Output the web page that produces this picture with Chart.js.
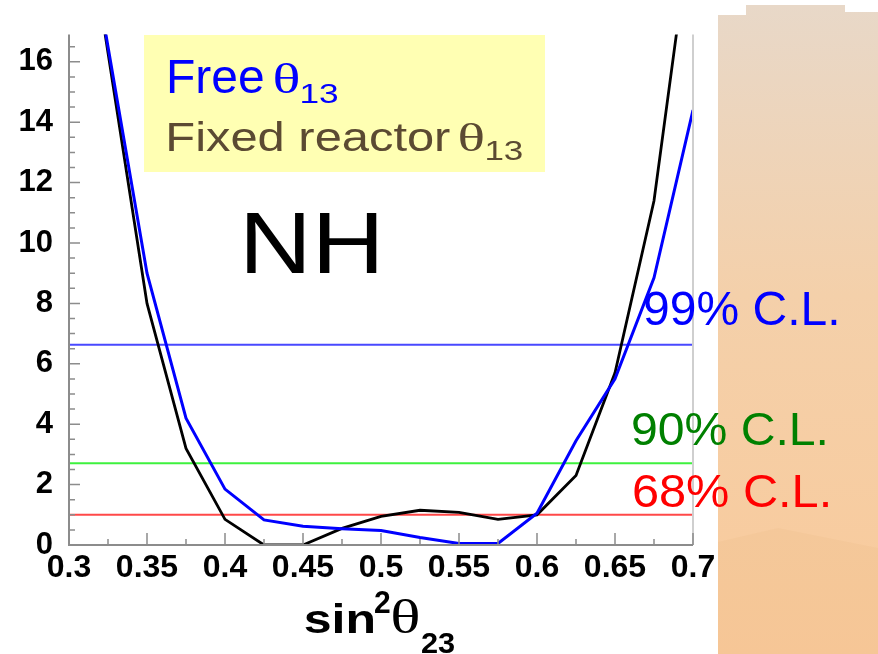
<!DOCTYPE html>
<html>
<head>
<meta charset="utf-8">
<script src="https://cdn.jsdelivr.net/npm/chart.js@4.4.1/dist/chart.umd.min.js"></script>
<style>
  body { margin: 0; background: #fff; }
  #wrap { position: relative; width: 878px; height: 654px; overflow: hidden; }
  #panel { position: absolute; left: 718px; top: 5px; width: 160px; height: 649px;
           background: linear-gradient(to bottom, #e8d8c8 0px, #f4d0aa 290px, #f9ca9b 649px);
           clip-path: polygon(0 10px, 28px 10px, 28px 0, 127px 0, 127px 7px, 160px 7px, 160px 649px, 0 649px); }
  #hill { position: absolute; left: 718px; top: 520px; width: 160px; height: 134px;
          background: rgba(214, 150, 90, 0.07);
          clip-path: polygon(0 22px, 60px 8px, 160px 28px, 160px 134px, 0 134px); }
  canvas { position: absolute; left: 0; top: 0; }
</style>
</head>
<body>
<div id="wrap">
  <div id="panel"></div>
  <div id="hill"></div>
  <canvas id="chart" width="878" height="654"></canvas>
</div>
<script>
// sin^2(theta23) grid
const xValues = [0.3, 0.325, 0.35, 0.375, 0.4, 0.425, 0.45, 0.475, 0.5, 0.525, 0.55, 0.575, 0.6, 0.625, 0.65, 0.675, 0.7];
// delta chi2, free theta13 (blue)
const freeTheta13 = [24.0, 16.5, 9.0, 4.2, 1.85, 0.83, 0.62, 0.54, 0.48, 0.25, 0.05, 0.05, 1.05, 3.45, 5.5, 8.85, 14.4];
// delta chi2, fixed reactor theta13 (black)
const fixedTheta13 = [24.6, 16.3, 8.0, 3.2, 0.85, 0.0, 0.0, 0.55, 0.95, 1.15, 1.08, 0.85, 1.0, 2.3, 5.7, 11.4, 21.0];
// confidence levels
const clLevels = [1.0, 2.71, 6.63];
const clNames = ['68% C.L.', '90% C.L.', '99% C.L.'];
const clLineColors = ['rgba(255,40,40,0.85)', 'rgba(40,240,40,0.9)', 'rgba(40,40,255,0.85)'];
const clTextColors = ['#ff0000', '#008000', '#0000ff'];
const yMax = 16.9;

const SANS = '"Liberation Sans", Arial, sans-serif';
const SERIF = '"Liberation Serif", "DejaVu Serif", serif';

// draw text so its ink starts at `left` and spans `w` pixels
function ink(ctx, str, left, base, font, color, w) {
  ctx.save();
  ctx.font = font;
  ctx.fillStyle = color;
  ctx.textAlign = 'left';
  ctx.textBaseline = 'alphabetic';
  const m = ctx.measureText(str);
  const iw = m.actualBoundingBoxLeft + m.actualBoundingBoxRight;
  const sx = w / iw;
  ctx.translate(left + m.actualBoundingBoxLeft * sx, base);
  ctx.scale(sx, 1);
  ctx.fillText(str, 0, 0);
  ctx.restore();
}

const decor = {
  id: 'decor',
  beforeDatasetsDraw(chart) {
    const ctx = chart.ctx;
    ctx.save();
    ctx.fillStyle = '#ffffb3';
    ctx.fillRect(144, 35, 401, 137);
    ctx.restore();
  },
  afterDatasetsDraw(chart) {
    const ctx = chart.ctx;
    const a = chart.chartArea;
    const xs = chart.scales.x, ys = chart.scales.y;
    ctx.save();
    // axes
    ctx.lineWidth = 2;
    ctx.strokeStyle = '#cfcfcf';
    ctx.beginPath(); ctx.moveTo(a.right, a.top); ctx.lineTo(a.right, a.bottom); ctx.stroke();
    ctx.strokeStyle = '#8c8c8c';
    ctx.beginPath();
    ctx.moveTo(a.left, a.top); ctx.lineTo(a.left, a.bottom); ctx.lineTo(a.right, a.bottom);
    ctx.stroke();
    ctx.lineWidth = 1.5;
    ctx.beginPath();
    for (let i = 0; i <= 16; i++) {
      const px = xs.getPixelForValue(0.3 + i * 0.025);
      const len = i % 2 === 0 ? 12 : 6;
      ctx.moveTo(px, a.bottom); ctx.lineTo(px, a.bottom - len);
    }
    for (let i = 0; i * 0.5 <= yMax; i++) {
      const py = ys.getPixelForValue(i * 0.5);
      const len = i % 4 === 0 ? 11 : 6;
      ctx.moveTo(a.left, py); ctx.lineTo(a.left + len, py);
    }
    ctx.stroke();
    ctx.restore();

    // legend text
    ink(ctx, 'Free', 169, 93, '48px ' + SANS, '#0000ff', 94);
    ink(ctx, 'θ', 274, 93, '42px ' + SERIF, '#0000ff', 25);
    ink(ctx, '13', 302, 103, '28px ' + SANS, '#0000ff', 36);
    ink(ctx, 'Fixed reactor', 169, 151, '40px ' + SANS, '#5b4a32', 281);
    ink(ctx, 'θ', 459, 151, '39px ' + SERIF, '#5b4a32', 25);
    ink(ctx, '13', 487, 160, '27px ' + SANS, '#5b4a32', 35);
    ink(ctx, 'NH', 247, 273, '88px ' + SANS, '#000000', 130);

    // C.L. labels
    const clPos = [[634, 507, 194, 47], [633, 445, 192, 46], [645, 325, 192, 49]];
    clNames.forEach((t, i) => {
      const p = clPos[i];
      ink(ctx, t, p[0], p[1], p[3] + 'px ' + SANS, clTextColors[i], p[2]);
    });

    // axis title
    ink(ctx, 'sin', 305, 633, 'bold 40px ' + SANS, '#000', 68);
    ink(ctx, '2', 375, 613, 'bold 32px ' + SANS, '#000', 15);
    ink(ctx, 'θ', 393, 633, '48px ' + SERIF, '#000', 25);
    ink(ctx, '23', 422, 653, 'bold 29px ' + SANS, '#000', 33);
  }
};

const toPts = arr => arr.map((v, i) => ({ x: xValues[i], y: v }));

const datasets = [
  { data: toPts(freeTheta13), borderColor: '#0000ff', borderWidth: 3 },
  { data: toPts(fixedTheta13), borderColor: '#000000', borderWidth: 2.8 }
];
clLevels.forEach((lvl, i) => {
  datasets.push({
    data: [{ x: xValues[0], y: lvl }, { x: xValues[xValues.length - 1], y: lvl }],
    borderColor: clLineColors[i],
    borderWidth: 2
  });
});

new Chart(document.getElementById('chart'), {
  type: 'line',
  data: { datasets: datasets },
  options: {
    responsive: false,
    animation: false,
    events: [],
    layout: { padding: { top: 15, right: 185, left: 0, bottom: 0 } },
    elements: { point: { radius: 0 }, line: { tension: 0 } },
    plugins: { legend: { display: false }, tooltip: { enabled: false } },
    scales: {
      x: {
        type: 'linear',
        min: 0.3, max: 0.7,
        grid: { display: false, drawTicks: false },
        border: { display: false },
        afterFit: s => { s.height = 109; },
        ticks: {
          stepSize: 0.05,
          padding: 4,
          autoSkip: false,
          color: '#000',
          font: { family: SANS, size: 32, weight: 'bold' },
          maxRotation: 0,
          callback: v => String(+v.toFixed(2))
        }
      },
      y: {
        min: 0, max: yMax,
        grid: { display: false, drawTicks: false },
        border: { display: false },
        afterFit: s => { s.width = 69; },
        ticks: {
          stepSize: 2,
          includeBounds: false,
          autoSkip: false,
          padding: 16,
          color: '#000',
          font: { family: SANS, size: 31, weight: 'bold' }
        }
      }
    }
  },
  plugins: [decor]
});
</script>
</body>
</html>
